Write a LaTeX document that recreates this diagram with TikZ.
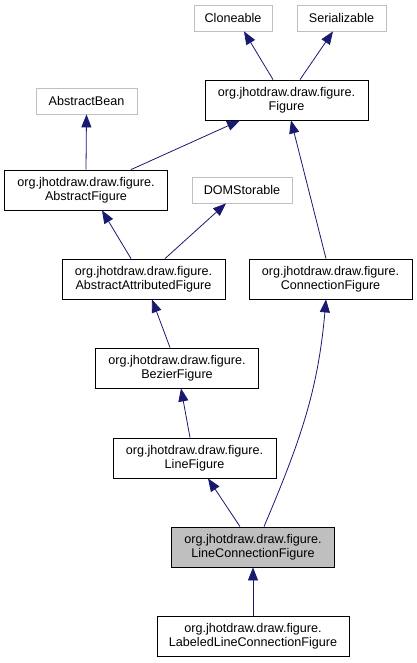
\documentclass[tikz,border=0pt]{standalone}
\usepackage{fontspec}
\setmainfont{Liberation Sans}
\usetikzlibrary{arrows.meta,calc}
\definecolor{edgeblue}{RGB}{25,25,112}
\definecolor{boxgray}{RGB}{191,191,191}

\begin{document}
\begin{tikzpicture}[x=1pt, y=-1pt,
    every node/.style={font=\fontsize{12.6}{14}\selectfont, text=black, inner sep=0pt, align=center},
    cls/.style={draw=black, fill=white, line width=0.8pt, minimum width=163pt, minimum height=40pt},
    ext/.style={draw=boxgray, fill=white, line width=0.8pt, minimum height=26pt},
    cur/.style={cls, fill=boxgray},
    inh/.style={draw=edgeblue, line width=0.8pt, -{Triangle[length=13pt, width=10pt]}}]
        \useasboundingbox (0,0) rectangle (417,663);

        % Interfaces and base classes
        \node[ext, minimum width=78pt] (clone) at (233,18) {Cloneable};
        \node[ext, minimum width=89pt] (ser) at (341.5,18) {Serializable};
        \node[ext, minimum width=101pt] (bean) at (86.5,101) {AbstractBean};
        \node[ext, minimum width=100pt] (dom) at (242,190) {DOMStorable};

        % Figure classes
        \node[cls] (fig) at (286.5,100) {org.jhotdraw.draw.figure.\\Figure};
        \node[cls] (absfig) at (86,190) {org.jhotdraw.draw.figure.\\AbstractFigure};
        \node[cls] (attrfig) at (143.5,279) {org.jhotdraw.draw.figure.\\AbstractAttributedFigure};
        \node[cls] (connfig) at (330.5,279) {org.jhotdraw.draw.figure.\\ConnectionFigure};
        \node[cls] (bezfig) at (177,368) {org.jhotdraw.draw.figure.\\BezierFigure};
        \node[cls] (linefig) at (194.5,458) {org.jhotdraw.draw.figure.\\LineFigure};
        \node[cur] (lcfig) at (253,547) {org.jhotdraw.draw.figure.\\LineConnectionFigure};
        \node[cls, minimum width=192pt] (llcfig) at (253,636.5) {org.jhotdraw.draw.figure.\\LabeledLineConnectionFigure};

        % Inheritance
        \draw[inh] ([xshift=-13.5pt]fig.north) -- ([xshift=11pt]clone.south);
        \draw[inh] ([xshift=13.5pt]fig.north) -- ([xshift=-8.5pt]ser.south);
        \draw[inh] ([xshift=45pt]absfig.north) -- ([xshift=-46.5pt]fig.south);
        \draw[inh] (absfig.north) -- (bean.south);
        \draw[inh] ([xshift=-12.5pt]attrfig.north) -- ([xshift=16pt]absfig.south);
        \draw[inh] ([xshift=21.5pt]attrfig.north) -- ([xshift=-16pt]dom.south);
        \draw[inh] ([xshift=-4.5pt]connfig.north) -- ([xshift=4.5pt]fig.south);
        \draw[inh] ([xshift=-7pt]bezfig.north) -- ([xshift=8.5pt]attrfig.south);
        \draw[inh] ([xshift=-4.5pt]linefig.north) -- ([xshift=4pt]bezfig.south);
        \draw[inh] ([xshift=-13pt]lcfig.north) -- ([xshift=13.5pt]linefig.south);
        \draw[inh] ([xshift=11pt]lcfig.north) to[out=67, in=-95] ([xshift=-4.5pt]connfig.south);
        \draw[inh] (llcfig.north) -- (lcfig.south);
    \end{tikzpicture}
\end{document}
